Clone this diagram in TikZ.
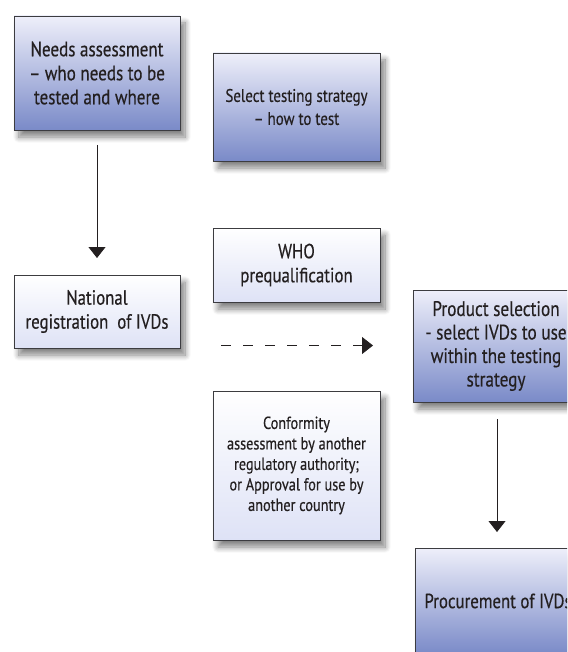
\documentclass[tikz,border=0pt]{standalone}
\usepackage{fontspec}
\setmainfont[FakeStretch=0.82, FakeBold=0.4]{PT Sans}
\usetikzlibrary{arrows.meta,shadows.blur}

\definecolor{boxline}{RGB}{60,60,64}
\definecolor{deeptop}{RGB}{238,239,250}
\definecolor{deepbot}{RGB}{122,138,200}
\definecolor{palebot}{RGB}{222,226,246}
\definecolor{inktext}{RGB}{35,31,32}

\tikzset{
  stage/.style={draw=boxline, line width=0.9pt, align=center, inner sep=1pt,
    text=inktext,
    blur shadow={shadow xshift=5pt, shadow yshift=-7pt, shadow blur radius=6pt,
      shadow blur steps=10, shadow opacity=50}},
  deep/.style={stage, top color=deeptop, bottom color=deepbot},
  pale/.style={stage, top color=white, middle color=white, bottom color=palebot},
  flow/.style={draw=inktext, line width=0.8pt,
    -{Triangle[width=17pt,length=11pt]}},
}

\begin{document}
\begin{tikzpicture}[x=1pt, y=-1pt]
\useasboundingbox (0,0) rectangle (567,652);
\clip (0,0) rectangle (567,652);

\node[deep, minimum width=166pt, minimum height=114pt, font=\fontsize{20.8}{24}\selectfont]
  (needs) at (97,73) {Needs assessment\\ – who needs to be\\ tested and where};
\node[deep, minimum width=167pt, minimum height=108pt, font=\fontsize{18.2}{23}\selectfont]
  (strategy) at (296.5,107) {Select testing strategy\\ – how to test};
\node[pale, minimum width=166pt, minimum height=73pt, font=\fontsize{20.5}{24}\selectfont]
  (national) at (97,311.5) {National\\ registration\ \ of IVDs};
\node[pale, minimum width=167pt, minimum height=74pt, font=\fontsize{20.5}{24}\selectfont]
  (who) at (296.5,265) {WHO\\ prequalification};
\node[deep, minimum width=166pt, minimum height=112pt, font=\fontsize{21}{23.5}\selectfont]
  (product) at (496,346) {Product selection\\ - select IVDs to use\\ within the testing\\ strategy};
\node[pale, minimum width=167pt, minimum height=149pt, font=\fontsize{17.4}{20.5}\selectfont]
  (conform) at (296.5,465.5) {Conformity\\ assessment by another\\ regulatory authority;\\ or Approval for use by\\ another country};
\node[deep, minimum width=166pt, minimum height=106pt, font=\fontsize{20.5}{24}\selectfont]
  (procure) at (498,601) {Procurement of IVDs};

% connector end points
\coordinate (a1) at (97,145);
\coordinate (a2) at (97,258);
\coordinate (d1) at (221,345.5);
\coordinate (d2) at (373,345.5);
\coordinate (b1) at (497,419);
\coordinate (b2) at (497,532);

\draw[flow] (a1) -- (a2);
\draw[flow, dash pattern=on 9.5pt off 12.5pt] (d1) -- (d2);
\draw[flow] (b1) -- (b2);
\end{tikzpicture}
\end{document}
